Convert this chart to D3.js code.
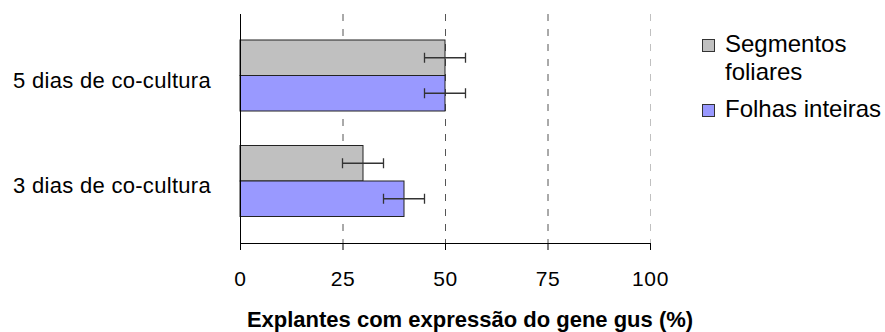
<!DOCTYPE html>
<html>
<head>
<meta charset="utf-8">
<script src="https://cdn.jsdelivr.net/npm/d3@7"></script>
<style>
  html, body { margin: 0; padding: 0; background: #fff; }
  svg { display: block; font-family: "Liberation Sans", Arial, sans-serif; }
</style>
</head>
<body>
<svg id="chart" width="885" height="332"></svg>
<script>
// Categories (top to bottom) and series
const categories = ["5 dias de co-cultura", "3 dias de co-cultura"];
const seriesNames = ["Segmentos foliares", "Folhas inteiras"];
const seriesColors = ["#C0C0C0", "#9999FF"];
const segmentosValues = [50, 30];
const segmentosErrors = [5, 5];
const folhasValues = [50, 40];
const folhasErrors = [5, 5];
const xTicks = [0, 25, 50, 75, 100];
const xTitle = "Explantes com expressão do gene gus (%)";

const svg = d3.select("#chart");

const plot = { left: 240, right: 650, top: 14, bottom: 243 };

const x = d3.scaleLinear().domain([0, 100]).range([plot.left, plot.right]);
const y = d3.scaleBand()
  .domain(categories)
  .range([22.75, 233.75])
  .paddingInner(0.327)
  .paddingOuter(0.1635);
const ySub = d3.scaleBand()
  .domain(seriesNames)
  .range([0, y.bandwidth()]);

// Vertical dashed gridlines
svg.append("g")
  .selectAll("line")
  .data(xTicks.slice(1))
  .join("line")
  .attr("x1", d => x(d) + 0.5)
  .attr("x2", d => x(d) + 0.5)
  .attr("y1", plot.top)
  .attr("y2", plot.bottom)
  .attr("stroke", d => d === 100 ? "#c0c0c0" : "#555")
  .attr("stroke-width", 1)
  .attr("stroke-dasharray", "7,8");

// Bars
const rows = categories.map((c, i) => ({
  cat: c,
  items: [
    { s: seriesNames[0], v: segmentosValues[i], e: segmentosErrors[i], color: seriesColors[0] },
    { s: seriesNames[1], v: folhasValues[i], e: folhasErrors[i], color: seriesColors[1] }
  ]
}));

const groups = svg.append("g")
  .selectAll("g")
  .data(rows)
  .join("g")
  .attr("transform", d => `translate(0,${y(d.cat)})`);

groups.selectAll("rect")
  .data(d => d.items)
  .join("rect")
  .attr("x", x(0))
  .attr("y", d => ySub(d.s))
  .attr("width", d => x(d.v) - x(0))
  .attr("height", ySub.bandwidth())
  .attr("fill", d => d.color)
  .attr("stroke", "#222")
  .attr("stroke-width", 1);

// Error bars
const eb = groups.selectAll("g.err")
  .data(d => d.items)
  .join("g")
  .attr("class", "err")
  .attr("stroke", "#333")
  .attr("stroke-width", 1.3);
eb.append("line")
  .attr("x1", d => x(d.v - d.e))
  .attr("x2", d => x(d.v + d.e))
  .attr("y1", d => ySub(d.s) + ySub.bandwidth() / 2)
  .attr("y2", d => ySub(d.s) + ySub.bandwidth() / 2);
[-1, 1].forEach(sign => {
  eb.append("line")
    .attr("x1", d => x(d.v + sign * d.e))
    .attr("x2", d => x(d.v + sign * d.e))
    .attr("y1", d => ySub(d.s) + ySub.bandwidth() / 2 - 5)
    .attr("y2", d => ySub(d.s) + ySub.bandwidth() / 2 + 5);
});

// X axis
const xAxis = d3.axisBottom(x).tickValues(xTicks).tickSize(7).tickPadding(21).tickFormat(d3.format("d"));
const gx = svg.append("g")
  .attr("transform", `translate(0,${plot.bottom})`)
  .call(xAxis);
gx.select(".domain").attr("stroke", "#000").attr("d", `M${plot.left},0.5H${plot.right}`);
gx.selectAll(".tick line").attr("stroke", "#000");
gx.selectAll(".tick text")
  .attr("font-size", 21)
  .attr("letter-spacing", 0.6)
  .attr("fill", "#000")
  .attr("font-family", "Liberation Sans, Arial, sans-serif");

// Y axis line
svg.append("line")
  .attr("x1", plot.left + 0.5).attr("x2", plot.left + 0.5)
  .attr("y1", plot.top).attr("y2", plot.bottom + 7)
  .attr("stroke", "#000");

// Category labels
svg.append("g")
  .selectAll("text")
  .data(categories)
  .join("text")
  .attr("x", 211)
  .attr("y", d => y(d) + y.bandwidth() / 2 + 12)
  .attr("text-anchor", "end")
  .attr("font-size", 22)
  .attr("letter-spacing", 0.3)
  .attr("fill", "#000")
  .text(d => d);

// Axis title
svg.append("text")
  .attr("x", 470)
  .attr("y", 327)
  .attr("text-anchor", "middle")
  .attr("font-size", 22)
  .attr("font-weight", "bold")
  .attr("fill", "#000")
  .text(xTitle);

// Legend
const legend = svg.append("g");
const legendItems = [
  { lines: ["Segmentos", "foliares"], color: seriesColors[0], y: 52 },
  { lines: ["Folhas inteiras"], color: seriesColors[1], y: 117 }
];
legendItems.forEach(it => {
  legend.append("rect")
    .attr("x", 702.5).attr("y", it.y - 12.5)
    .attr("width", 12).attr("height", 12)
    .attr("fill", it.color)
    .attr("stroke", "#333");
  const t = legend.append("text")
    .attr("x", 725).attr("y", it.y)
    .attr("font-size", 24)
    .attr("fill", "#000");
  it.lines.forEach((l, i) => {
    t.append("tspan").attr("x", 725).attr("dy", i === 0 ? 0 : 28).text(l);
  });
});
</script>
</body>
</html>
